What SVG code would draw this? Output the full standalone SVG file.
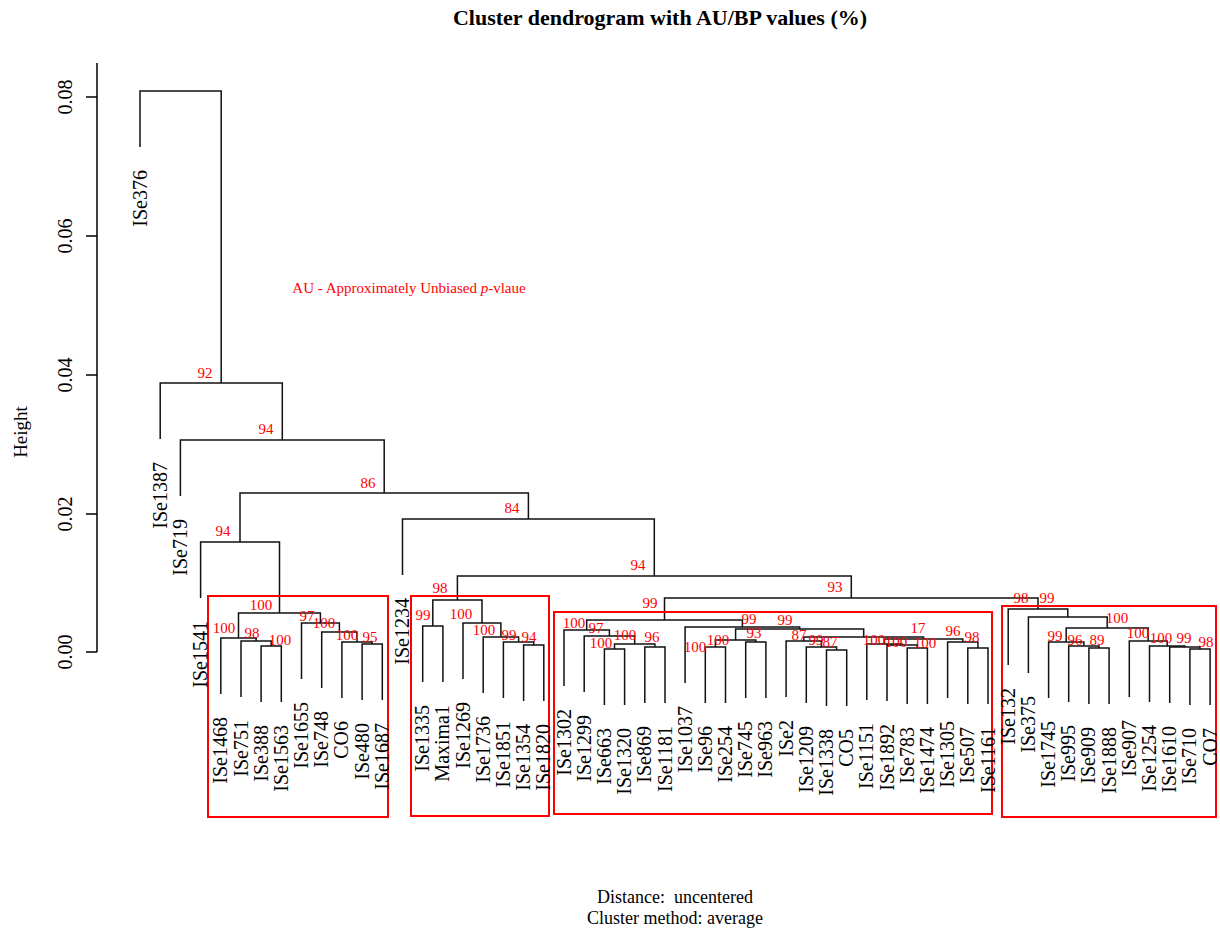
<svg xmlns="http://www.w3.org/2000/svg" width="1220" height="932" viewBox="0 0 1220 932">
<style>
.t{font-family:"Liberation Serif","Times New Roman",serif;fill:#000}
.lf{font-size:20px;text-anchor:end}
.au{font-family:"Liberation Serif","Times New Roman",serif;font-size:15px;fill:#ff0000;text-anchor:middle}
.ax{stroke:#000;stroke-width:1.5;fill:none}
.br{stroke:#111;stroke-width:1.5;fill:none}
.box{stroke:#ff0000;stroke-width:2;fill:none}
</style>
<rect width="1220" height="932" fill="#fff"/>
<text class="t" x="660" y="25" font-size="22" font-weight="bold" text-anchor="middle">Cluster dendrogram with AU/BP values (%)</text>
<g id="axis">
<path class="ax" d="M97,63 V652 M86,97 H97 M86,236 H97 M86,375 H97 M86,514 H97 M86,652 H97"/>
<g class="t" font-size="20" text-anchor="middle">
<text transform="translate(72,97) rotate(-90)">0.08</text>
<text transform="translate(72,236) rotate(-90)">0.06</text>
<text transform="translate(72,375) rotate(-90)">0.04</text>
<text transform="translate(72,514) rotate(-90)">0.02</text>
<text transform="translate(72,652) rotate(-90)">0.00</text>
</g>
<text class="t" font-size="19" text-anchor="middle" transform="translate(27,432) rotate(-90)">Height</text>
</g>
<text class="au" x="409" y="293" text-anchor="middle">AU - Approximately Unbiased <tspan font-style="italic">p</tspan>-vlaue</text>
<g id="connectors" class="br">
<path d="M140,147 V91 H221.2 V383"/>
<path d="M160.2,439 V383 H282.3 V440"/>
<path d="M180.4,496 V440 H384.2 V493"/>
<path d="M240,542 V493 H528.4 V519"/>
<path d="M200.6,598 V542 H279.5 V613"/>
<path d="M238.5,638 V613 H320.4 V623"/>
<path d="M220.8,694 V638 H256.1 V641"/>
<path d="M241,697 V641 H271.2 V646"/>
<path d="M261.1,702 V646 H281.3 V702"/>
<path d="M301.5,679 V623 H339.4 V632"/>
<path d="M321.7,688 V632 H357 V642"/>
<path d="M341.9,698 V642 H372.2 V644"/>
<path d="M362.1,700 V644 H382.3 V700"/>
<path d="M402.5,575 V519 H654.3 V576"/>
<path d="M457.4,600 V576 H851.3 V598"/>
<path d="M432.8,626 V600 H482 V623"/>
<path d="M422.7,682 V626 H442.9 V682"/>
<path d="M463,679 V623 H500.9 V637"/>
<path d="M483.2,693 V637 H518.6 V642"/>
<path d="M503.4,698 V642 H533.7 V645"/>
<path d="M523.6,701 V645 H543.8 V701"/>
<path d="M664.5,620 V598 H1038 V609"/>
<path d="M586.7,630 V620 H742.4 V627"/>
<path d="M564,686 V630 H609.4 V636"/>
<path d="M584.2,692 V636 H634.7 V644"/>
<path d="M614.5,649 V644 H654.9 V647"/>
<path d="M604.4,705 V649 H624.6 V705"/>
<path d="M644.8,703 V647 H665 V703"/>
<path d="M685.1,683 V627 H799.7 V629"/>
<path d="M735.6,640 V629 H863.7 V637"/>
<path d="M715.4,647 V640 H755.8 V642"/>
<path d="M705.3,703 V647 H725.5 V703"/>
<path d="M745.7,698 V642 H765.9 V698"/>
<path d="M803.8,641 V637 H923.6 V639"/>
<path d="M786.1,697 V641 H821.4 V647"/>
<path d="M806.3,703 V647 H836.6 V650"/>
<path d="M826.5,706 V650 H846.7 V706"/>
<path d="M884.5,644 V639 H962.8 V642"/>
<path d="M866.8,700 V644 H902.2 V645"/>
<path d="M887,701 V645 H917.3 V648"/>
<path d="M907.2,704 V648 H927.4 V704"/>
<path d="M947.6,698 V642 H977.9 V648"/>
<path d="M967.8,704 V648 H988 V704"/>
<path d="M1008.2,665 V609 H1067.8 V617"/>
<path d="M1028.4,673 V617 H1107.2 V628"/>
<path d="M1066.2,642 V628 H1148.2 V641"/>
<path d="M1048.6,698 V642 H1083.9 V646"/>
<path d="M1068.7,702 V646 H1099 V648"/>
<path d="M1088.9,704 V648 H1109.1 V704"/>
<path d="M1129.3,697 V641 H1167.2 V646"/>
<path d="M1149.5,702 V646 H1184.9 V647"/>
<path d="M1169.7,703 V647 H1200 V649"/>
<path d="M1189.9,705 V649 H1210.1 V705"/>
</g>
<g id="boxes" class="box">
<rect x="208" y="596" width="180" height="221"/>
<rect x="411" y="596" width="138" height="220"/>
<rect x="554" y="612" width="438" height="202"/>
<rect x="1002" y="606" width="214" height="211"/>
</g>
<g id="au-values">
<text class="au" x="205" y="378">92</text>
<text class="au" x="266" y="434">94</text>
<text class="au" x="368" y="488">86</text>
<text class="au" x="223" y="536">94</text>
<text class="au" x="512" y="513">84</text>
<text class="au" x="638" y="570">94</text>
<text class="au" x="440" y="593">98</text>
<text class="au" x="650" y="608">99</text>
<text class="au" x="835" y="592">93</text>
<text class="au" x="1021" y="603">98</text>
<text class="au" x="1047" y="603">99</text>
<text class="au" x="261" y="610">100</text>
<text class="au" x="224" y="633">100</text>
<text class="au" x="252" y="638">98</text>
<text class="au" x="280" y="645">100</text>
<text class="au" x="307" y="621">97</text>
<text class="au" x="324" y="628">100</text>
<text class="au" x="347" y="640">100</text>
<text class="au" x="370" y="642">95</text>
<text class="au" x="423" y="620">99</text>
<text class="au" x="461" y="619">100</text>
<text class="au" x="484" y="635">100</text>
<text class="au" x="509" y="640">99</text>
<text class="au" x="529" y="642">94</text>
<text class="au" x="574" y="628">100</text>
<text class="au" x="596" y="633">97</text>
<text class="au" x="601" y="648">100</text>
<text class="au" x="625" y="640">100</text>
<text class="au" x="652" y="642">96</text>
<text class="au" x="695" y="652">100</text>
<text class="au" x="718" y="645">100</text>
<text class="au" x="749" y="624">99</text>
<text class="au" x="754" y="638">93</text>
<text class="au" x="785" y="625">99</text>
<text class="au" x="799" y="640">87</text>
<text class="au" x="816" y="645">99</text>
<text class="au" x="830" y="647">87</text>
<text class="au" x="874" y="645">100</text>
<text class="au" x="896" y="647">100</text>
<text class="au" x="918" y="633">17</text>
<text class="au" x="925" y="648">100</text>
<text class="au" x="953" y="636">96</text>
<text class="au" x="972" y="642">98</text>
<text class="au" x="1117" y="623">100</text>
<text class="au" x="1055" y="641">99</text>
<text class="au" x="1075" y="645">96</text>
<text class="au" x="1097" y="645">89</text>
<text class="au" x="1138" y="638">100</text>
<text class="au" x="1161" y="643">100</text>
<text class="au" x="1184" y="643">99</text>
<text class="au" x="1206" y="647">98</text>
</g>
<g id="leaves" class="t lf">
<g id="leaf-ISe376"><text transform="translate(146.5,170) rotate(-90)">ISe376</text></g>
<g id="leaf-ISe1387"><text transform="translate(166.7,462) rotate(-90)">ISe1387</text></g>
<g id="leaf-ISe719"><text transform="translate(186.9,519) rotate(-90)">ISe719</text></g>
<g id="leaf-ISe1541"><text transform="translate(207.1,621) rotate(-90)">ISe1541</text></g>
<g id="leaf-ISe1468"><text transform="translate(227.3,717) rotate(-90)">ISe1468</text></g>
<g id="leaf-ISe751"><text transform="translate(247.5,720) rotate(-90)">ISe751</text></g>
<g id="leaf-ISe388"><text transform="translate(267.6,725) rotate(-90)">ISe388</text></g>
<g id="leaf-ISe1563"><text transform="translate(287.8,725) rotate(-90)">ISe1563</text></g>
<g id="leaf-ISe1655"><text transform="translate(308,702) rotate(-90)">ISe1655</text></g>
<g id="leaf-ISe748"><text transform="translate(328.2,711) rotate(-90)">ISe748</text></g>
<g id="leaf-CO6"><text transform="translate(348.4,721) rotate(-90)">CO6</text></g>
<g id="leaf-ISe480"><text transform="translate(368.6,723) rotate(-90)">ISe480</text></g>
<g id="leaf-ISe1687"><text transform="translate(388.8,723) rotate(-90)">ISe1687</text></g>
<g id="leaf-ISe1234"><text transform="translate(409,598) rotate(-90)">ISe1234</text></g>
<g id="leaf-ISe1335"><text transform="translate(429.2,705) rotate(-90)">ISe1335</text></g>
<g id="leaf-Maxima1"><text transform="translate(449.4,705) rotate(-90)">Maxima1</text></g>
<g id="leaf-ISe1269"><text transform="translate(469.5,702) rotate(-90)">ISe1269</text></g>
<g id="leaf-ISe1736"><text transform="translate(489.7,716) rotate(-90)">ISe1736</text></g>
<g id="leaf-ISe1851"><text transform="translate(509.9,721) rotate(-90)">ISe1851</text></g>
<g id="leaf-ISe1354"><text transform="translate(530.1,724) rotate(-90)">ISe1354</text></g>
<g id="leaf-ISe1820"><text transform="translate(550.3,724) rotate(-90)">ISe1820</text></g>
<g id="leaf-ISe1302"><text transform="translate(570.5,709) rotate(-90)">ISe1302</text></g>
<g id="leaf-ISe1299"><text transform="translate(590.7,715) rotate(-90)">ISe1299</text></g>
<g id="leaf-ISe663"><text transform="translate(610.9,728) rotate(-90)">ISe663</text></g>
<g id="leaf-ISe1320"><text transform="translate(631.1,728) rotate(-90)">ISe1320</text></g>
<g id="leaf-ISe869"><text transform="translate(651.3,726) rotate(-90)">ISe869</text></g>
<g id="leaf-ISe1181"><text transform="translate(671.5,726) rotate(-90)">ISe1181</text></g>
<g id="leaf-ISe1037"><text transform="translate(691.6,706) rotate(-90)">ISe1037</text></g>
<g id="leaf-ISe96"><text transform="translate(711.8,726) rotate(-90)">ISe96</text></g>
<g id="leaf-ISe254"><text transform="translate(732,726) rotate(-90)">ISe254</text></g>
<g id="leaf-ISe745"><text transform="translate(752.2,721) rotate(-90)">ISe745</text></g>
<g id="leaf-ISe963"><text transform="translate(772.4,721) rotate(-90)">ISe963</text></g>
<g id="leaf-ISe2"><text transform="translate(792.6,720) rotate(-90)">ISe2</text></g>
<g id="leaf-ISe1209"><text transform="translate(812.8,726) rotate(-90)">ISe1209</text></g>
<g id="leaf-ISe1338"><text transform="translate(833,729) rotate(-90)">ISe1338</text></g>
<g id="leaf-CO5"><text transform="translate(853.2,729) rotate(-90)">CO5</text></g>
<g id="leaf-ISe1151"><text transform="translate(873.3,723) rotate(-90)">ISe1151</text></g>
<g id="leaf-ISe1892"><text transform="translate(893.5,724) rotate(-90)">ISe1892</text></g>
<g id="leaf-ISe783"><text transform="translate(913.7,727) rotate(-90)">ISe783</text></g>
<g id="leaf-ISe1474"><text transform="translate(933.9,727) rotate(-90)">ISe1474</text></g>
<g id="leaf-ISe1305"><text transform="translate(954.1,721) rotate(-90)">ISe1305</text></g>
<g id="leaf-ISe507"><text transform="translate(974.3,727) rotate(-90)">ISe507</text></g>
<g id="leaf-ISe1161"><text transform="translate(994.5,727) rotate(-90)">ISe1161</text></g>
<g id="leaf-ISe132"><text transform="translate(1014.7,688) rotate(-90)">ISe132</text></g>
<g id="leaf-ISe375"><text transform="translate(1034.9,696) rotate(-90)">ISe375</text></g>
<g id="leaf-ISe1745"><text transform="translate(1055.1,721) rotate(-90)">ISe1745</text></g>
<g id="leaf-ISe995"><text transform="translate(1075.2,725) rotate(-90)">ISe995</text></g>
<g id="leaf-ISe909"><text transform="translate(1095.4,727) rotate(-90)">ISe909</text></g>
<g id="leaf-ISe1888"><text transform="translate(1115.6,727) rotate(-90)">ISe1888</text></g>
<g id="leaf-ISe907"><text transform="translate(1135.8,720) rotate(-90)">ISe907</text></g>
<g id="leaf-ISe1254"><text transform="translate(1156,725) rotate(-90)">ISe1254</text></g>
<g id="leaf-ISe1610"><text transform="translate(1176.2,726) rotate(-90)">ISe1610</text></g>
<g id="leaf-ISe710"><text transform="translate(1196.4,728) rotate(-90)">ISe710</text></g>
<g id="leaf-CO7"><text transform="translate(1216.6,728) rotate(-90)">CO7</text></g>
</g>
<g class="t" font-size="18" text-anchor="middle">
<text x="675" y="903" xml:space="preserve">Distance:  uncentered</text>
<text x="675" y="924">Cluster method: average</text>
</g>
</svg>
